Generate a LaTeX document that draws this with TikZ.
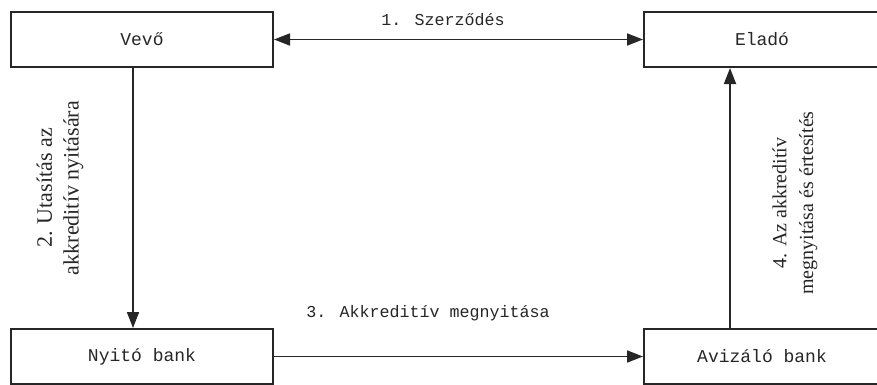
\documentclass[tikz,border=0pt]{standalone}
\usepackage{fontspec}
\setmainfont{Liberation Serif}
\newfontfamily\boxfont{Liberation Mono}
\usetikzlibrary{arrows.meta}
\definecolor{ink}{HTML}{262626}
\begin{document}
\begin{tikzpicture}[x=0.75pt,y=-0.75pt,
  party/.style={draw=ink,line width=1.5pt,rectangle,inner sep=0pt,
    minimum height=41.25pt,text=ink,font=\boxfont\fontsize{13.5}{15}\selectfont},
  flow/.style={draw=ink,line width=1.3pt,-{Triangle[length=12pt,width=9pt]}},
  steplabel/.style={text=ink,font=\boxfont\fontsize{12.5}{14}\selectfont},
  sidelabel/.style={text=ink,align=center,rotate=90,inner sep=0pt}]
\useasboundingbox (0,0) rectangle (877,385);
\clip (0,0) rectangle (877,385);
\fill[white] (0,0) rectangle (877,385);
\node[party,minimum width=196.5pt] (vevo) at (142,39.5) {Vevő};
\node[party,minimum width=177pt] (elado) at (762,39.5) {Eladó};
\node[party,minimum width=196.5pt] (nyito) at (142,356.5) {Nyitó bank};
\node[party,minimum width=177pt] (aviz) at (762,356.5) {Avizáló bank};
\draw[flow,{Triangle[length=12pt,width=9pt]}-{Triangle[length=12pt,width=9pt]}] (vevo.east) -- (elado.west);
\draw[flow] ([xshift=-6.75pt]vevo.south) -- ([xshift=-6.75pt]nyito.north);
\draw[flow] (nyito.east) -- (aviz.west);
\draw[flow] ([xshift=-24pt]aviz.north) -- ([xshift=-24pt]elado.south);
\node[steplabel] (l1) at (443,20) {1. Szerződés};
\node[steplabel] (l3) at (428,313) {3. Akkreditív megnyitása};
\node[sidelabel,font=\fontsize{16.5}{20}\selectfont] (l2) at (60,188) {2. Utasítás az\\akkreditív nyitására};
\node[sidelabel,font=\fontsize{15}{20}\selectfont] (l4) at (795,203) {4. Az akkreditív\\megnyitása és értesítés};
\end{tikzpicture}
\end{document}
